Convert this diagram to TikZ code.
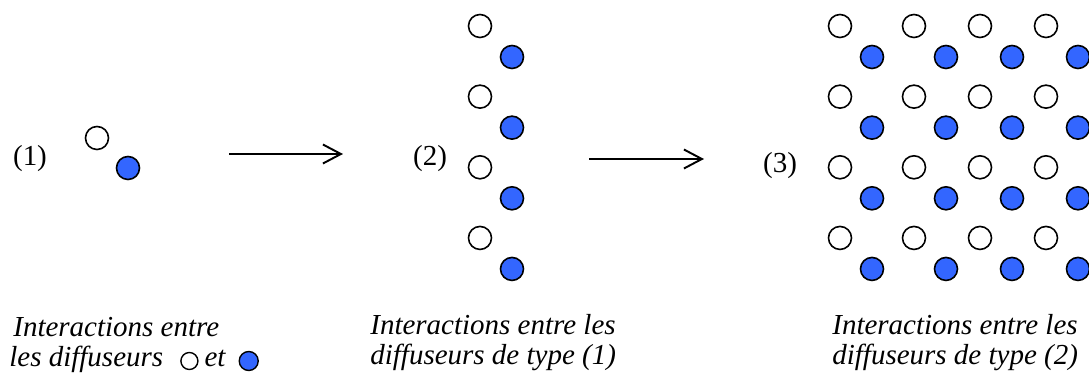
\documentclass[tikz,border=0pt]{standalone}
\usepackage{fontspec}
\setmainfont{Liberation Serif}
\usetikzlibrary{arrows.meta,positioning}
\definecolor{diffblue}{RGB}{51,102,255}
\newcommand{\grand}{\fontsize{16.5pt}{17.6pt}\selectfont}
\tikzset{dot/.style={circle,draw,line width=0.9pt,minimum size=0.46cm,inner sep=0pt},
  blanc/.style={dot,fill=white},
  bleu/.style={dot,fill=diffblue},
  arr/.style={-{Straight Barb[length=3.6mm,width=3.8mm]},line width=1.1pt},
  legende/.style={align=left,anchor=base west,font=\grand\itshape,inner sep=0pt}}
\newcommand{\ptblanc}{\tikz[baseline=-0.12cm]\draw[line width=0.8pt,fill=white] (0,0) circle (0.17cm);}
\newcommand{\ptbleu}{\tikz[baseline=-0.12cm]\draw[line width=0.8pt,fill=diffblue] (0,0) circle (0.19cm);}

\begin{document}
\begin{tikzpicture}[font=\grand]
\useasboundingbox (0,0) rectangle (21.78,7.56);
% (1) : une paire
\node (lab1) at (0.60,4.38) {(1)};
\node[blanc] (w1) at (1.94,4.80) {};
\node[bleu] (b1) at (2.56,4.20) {};
% (2) : une colonne
\node (lab2) at (8.60,4.38) {(2)};
\foreach \k in {0,...,3}{
  \node[blanc] (w2-\k) at (9.60,7.04-1.413*\k) {};
  \node[bleu] (b2-\k) at (10.24,6.42-1.413*\k) {};
}
% (3) : le reseau
\node (lab3) at (15.60,4.24) {(3)};
\foreach \x [count=\i] in {16.80,18.28,19.60,20.92}
  \foreach \k in {0,...,3}{
    \node[blanc] (w3-\i-\k) at (\x,7.04-1.413*\k) {};
    \node[bleu] (b3-\i-\k) at (\x+0.64,6.42-1.413*\k) {};
  }
% fleches
\coordinate (f1a) at (4.58,4.48);
\coordinate (f1b) at (6.86,4.48);
\coordinate (f2a) at (11.78,4.38);
\coordinate (f2b) at (14.08,4.38);
\draw[arr] (f1a) -- (f1b);
\draw[arr] (f2a) -- (f2b);
% legendes
\node[legende] (leg1) at (0.18,0.22) {\hspace*{0.08cm}Interactions entre\\les diffuseurs\hspace{0.34cm}\ptblanc\hspace{0.12cm}et\hspace{0.26cm}\ptbleu};
\node[legende] (leg2) at (7.40,0.26) {Interactions entre les\\diffuseurs de type (1)};
\node[legende] (leg3) at (16.64,0.26) {Interactions entre les\\diffuseurs de type (2)};
\end{tikzpicture}
\end{document}
